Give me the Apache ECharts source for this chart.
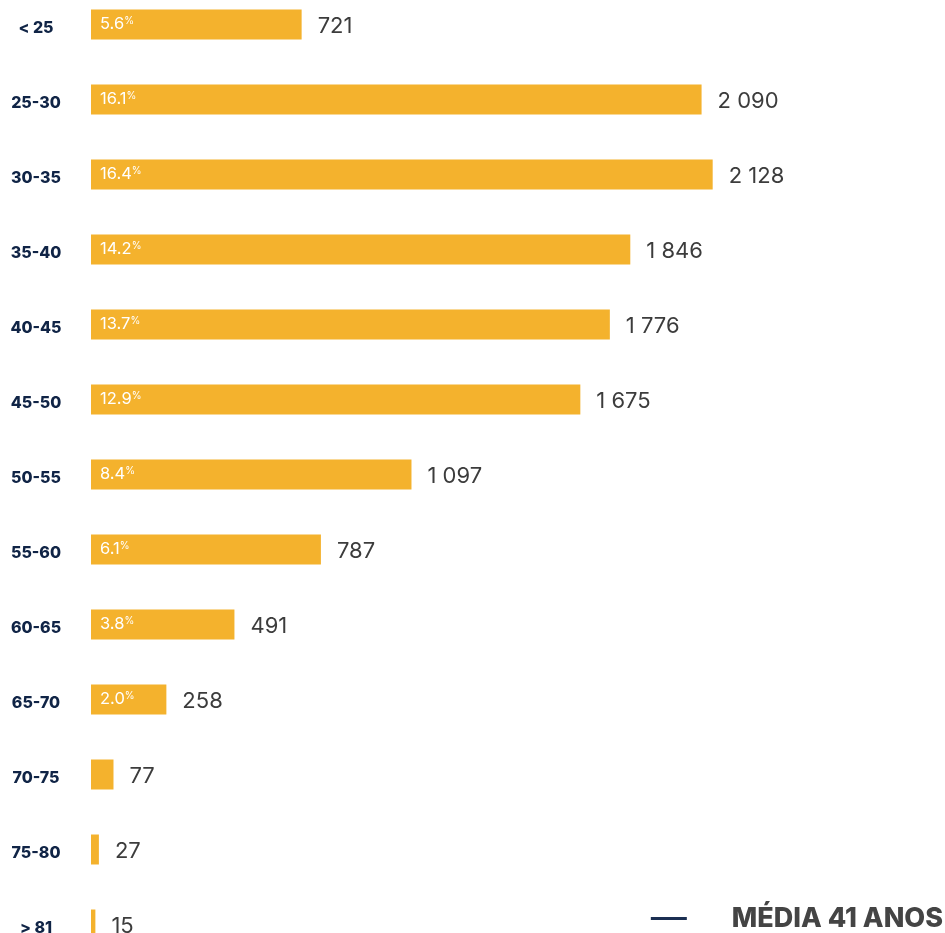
<!DOCTYPE html>
<html>
<head>
<meta charset="utf-8">
<style>
  html, body { margin: 0; padding: 0; background: #ffffff; overflow: hidden; }
  body { width: 945px; height: 933px; position: relative; }
  /* the plot runs a little past the top and bottom edges of the page */
  #chart { width: 945px; height: 975px; position: absolute; left: 0; top: -13.5px; }
</style>
<script src="https://cdn.jsdelivr.net/npm/echarts@6/dist/echarts.min.js"></script>
</head>
<body>
<div id="chart"></div>
<script>
// Age bands and headcount per band
const ageBands = ['< 25', '25-30', '30-35', '35-40', '40-45', '45-50', '50-55', '55-60', '60-65', '65-70', '70-75', '75-80', '> 81'];
const headcount = [721, 2090, 2128, 1846, 1776, 1675, 1097, 787, 491, 258, 77, 27, 15];
// Share of total shown inside the bar (none for the smallest bands)
const shares = ['5.6', '16.1', '16.4', '14.2', '13.7', '12.9', '8.4', '6.1', '3.8', '2.0', null, null, null];
const averageLabel = 'MÉDIA 41 ANOS';

const FONT = 'Inter, "Open Sans", sans-serif';
const BAR_COLOR = '#F4B22D';
const NAVY = '#102446';

function spaced(n) {
  return String(n).replace(/\B(?=(\d{3})+(?!\d))/g, ' ');
}

const chart = echarts.init(document.getElementById('chart'), null, { renderer: 'canvas' });

chart.setOption({
  animation: false,
  backgroundColor: '#ffffff',
  grid: { left: 91, top: 0, width: 818, height: 975, containLabel: false },
  xAxis: {
    type: 'value', min: 0, max: 2800,
    show: false
  },
  yAxis: {
    type: 'category',
    data: ageBands,
    inverse: true,
    axisLine: { show: false },
    axisTick: { show: false },
    splitLine: { show: false },
    axisLabel: {
      align: 'center',
      margin: 55,
      formatter: v => '{band|' + v + '}',
      rich: {
        band: {
          color: NAVY,
          fontFamily: FONT,
          fontWeight: 800,
          fontSize: 16,
          padding: [7, 0, 0, 0]
        }
      }
    }
  },
  legend: {
    right: -3,
    bottom: 25,
    itemWidth: 36,
    itemHeight: 3,
    icon: 'rect',
    data: [averageLabel],
    textStyle: {
      color: '#444444',
      fontFamily: FONT,
      fontWeight: 800,
      fontSize: 27,
      padding: [0, 0, 0, 40]
    }
  },
  series: [
    {
      name: 'headcount',
      type: 'bar',
      data: headcount,
      barWidth: 30,
      itemStyle: { color: BAR_COLOR },
      label: {
        show: true,
        position: 'right',
        distance: 16,
        offset: [0, 2],
        color: '#3c3c3c',
        fontFamily: FONT,
        fontSize: 22,
        formatter: p => spaced(p.value)
      },
      z: 2
    },
    {
      name: 'share',
      type: 'bar',
      data: headcount,
      barWidth: 30,
      barGap: '-100%',
      itemStyle: { color: 'transparent' },
      label: {
        show: true,
        position: 'insideLeft',
        distance: 9,
        formatter: p => shares[p.dataIndex] ? '{v|' + shares[p.dataIndex] + '}{pc|%}' : '',
        rich: {
          v: { color: '#ffffff', fontFamily: FONT, fontSize: 16.5 },
          pc: { color: '#ffffff', fontFamily: FONT, fontSize: 10, verticalAlign: 'top', padding: [0, 0, 7, 0] }
        }
      },
      z: 3
    },
    {
      name: averageLabel,
      type: 'line',
      data: [],
      itemStyle: { color: '#1B2F52' },
      lineStyle: { color: '#1B2F52' }
    }
  ]
});
</script>
</body>
</html>
